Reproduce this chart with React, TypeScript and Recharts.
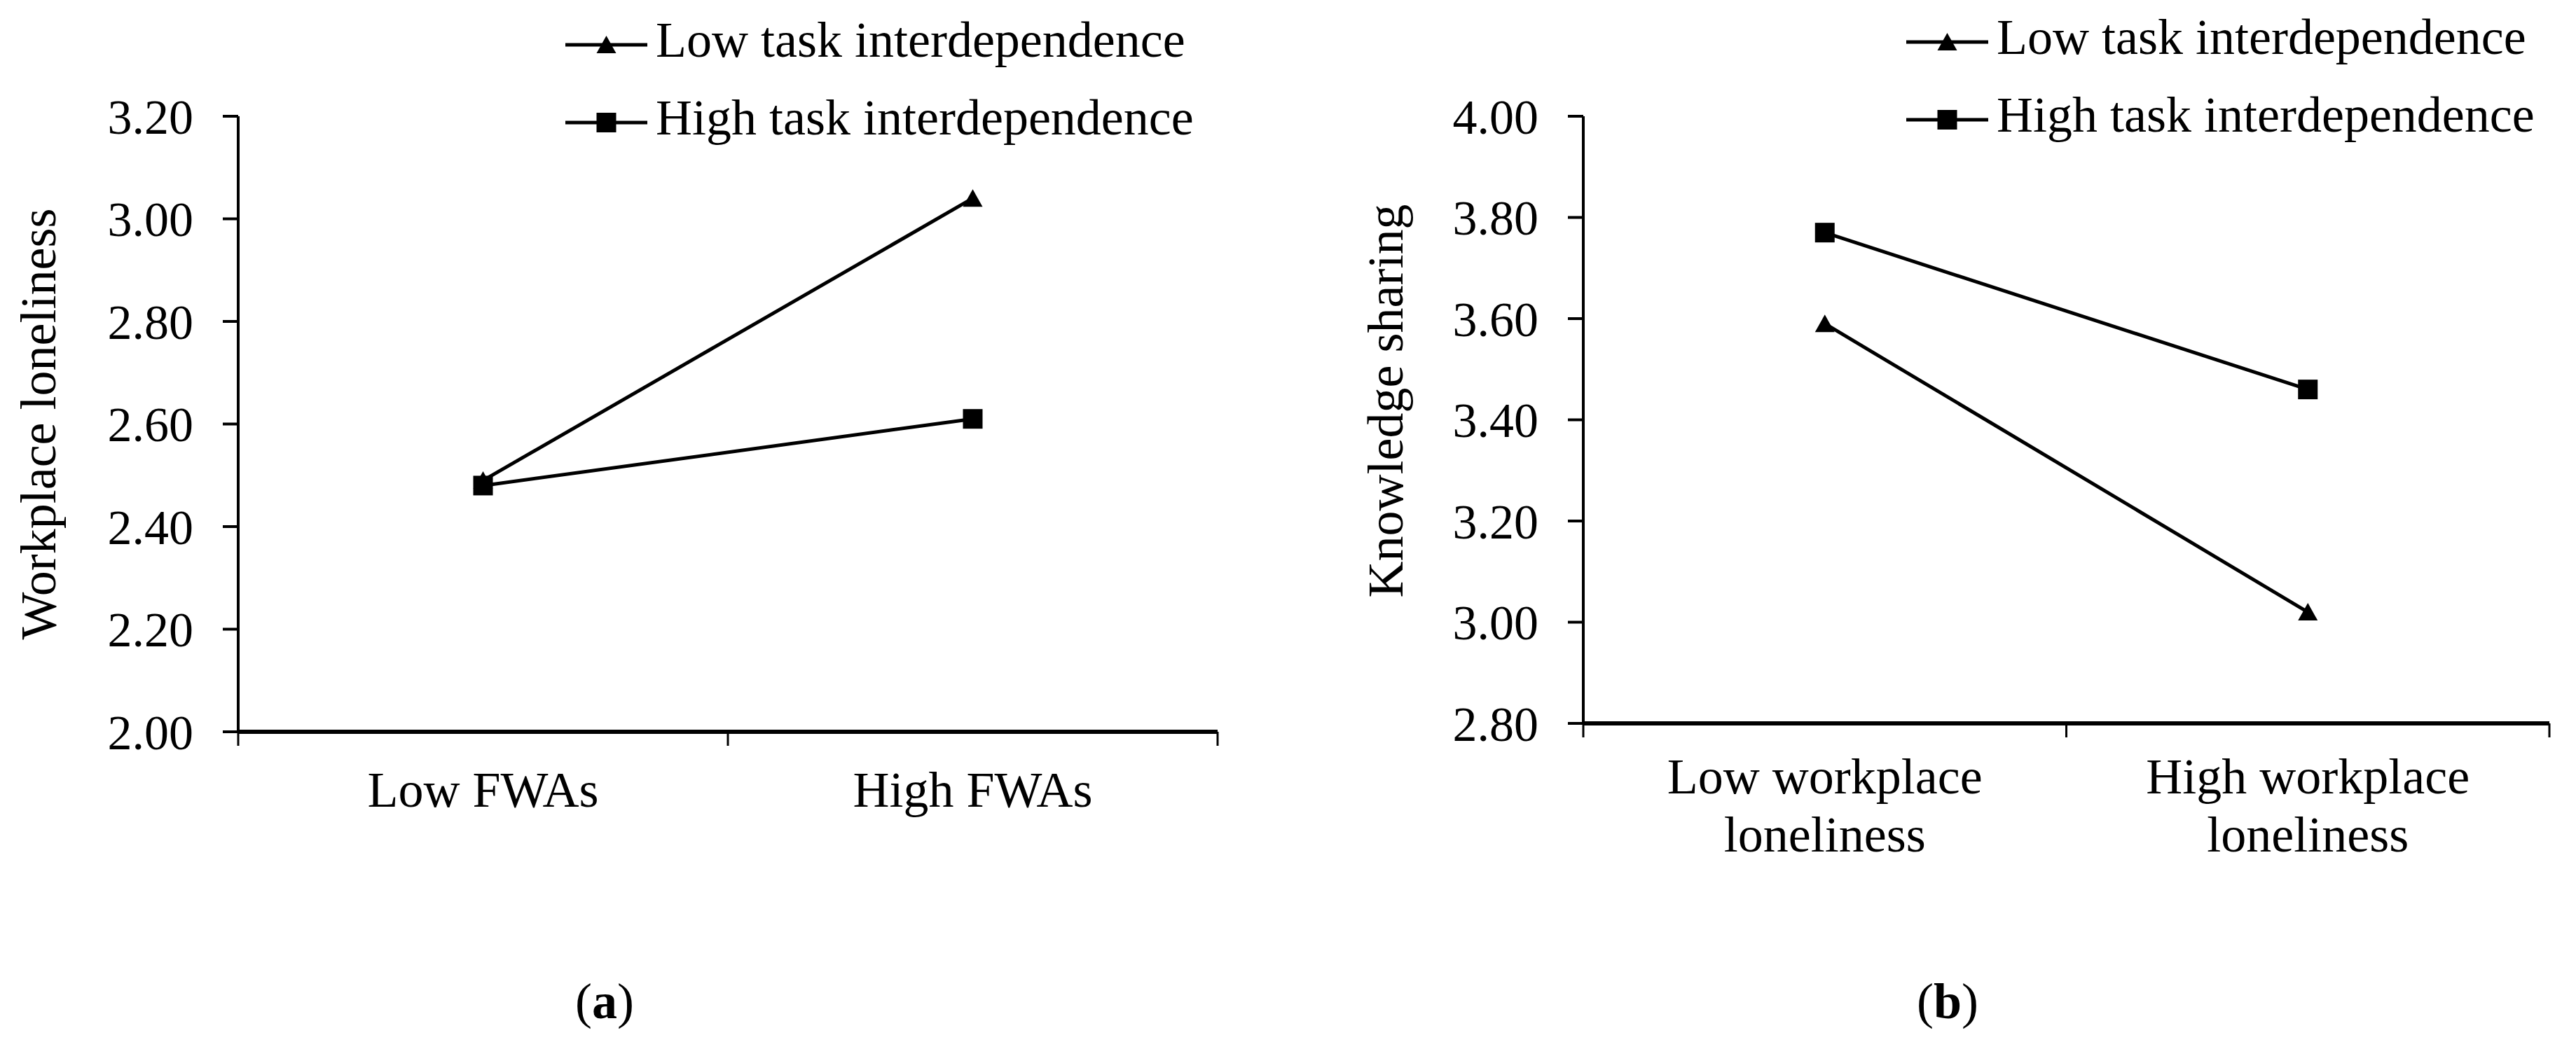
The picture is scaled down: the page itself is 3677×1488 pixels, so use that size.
import React from 'react';
import { LineChart, Line, XAxis, YAxis, Legend } from 'recharts';

const FONT = '"Liberation Serif", "Times New Roman", Times, serif';

// panel (a)
const fwaCategories = ['Low FWAs', 'High FWAs'];
const lonelinessLowTask = [2.49, 3.04];
const lonelinessHighTask = [2.48, 2.61];
const lonelinessTicks = [2.0, 2.2, 2.4, 2.6, 2.8, 3.0, 3.2];

// panel (b)
const lonelinessCategories = ['Low workplace loneliness', 'High workplace loneliness'];
const sharingLowTask = [3.59, 3.02];
const sharingHighTask = [3.77, 3.46];
const sharingTicks = [2.8, 3.0, 3.2, 3.4, 3.6, 3.8, 4.0];

const seriesNames = ['Low task interdependence', 'High task interdependence'];

const dataA = fwaCategories.map((cat, i) => ({
  cat,
  low: lonelinessLowTask[i],
  high: lonelinessHighTask[i],
}));
const dataB = lonelinessCategories.map((cat, i) => ({
  cat,
  low: sharingLowTask[i],
  high: sharingHighTask[i],
}));

function Marker({ kind, cx, cy }: { kind: string; cx: number; cy: number }) {
  if (kind === 'low') {
    return (
      <polygon
        points={`${cx},${cy - 13} ${cx + 14},${cy + 12} ${cx - 14},${cy + 12}`}
        fill="#000"
      />
    );
  }
  return <rect x={cx - 14} y={cy - 14} width={28} height={28} fill="#000" />;
}

const renderDot = (kind: string) => (props: any) => {
  const { cx, cy, index } = props;
  if (cx == null || cy == null) return <g key={index} />;
  return (
    <g key={`${kind}-${index}`}>
      <Marker kind={kind} cx={cx} cy={cy} />
    </g>
  );
};

// keep the legend in series order (Recharts sorts by value otherwise)
const renderLegend = (props: any) => {
  const items = [...(props.payload || [])].sort(
    (a: any, b: any) => seriesNames.indexOf(a.value) - seriesNames.indexOf(b.value)
  );
  return (
    <div style={{ position: 'relative' }}>
      {items.map((e: any, i: number) => (
        <div key={i} style={{ position: 'relative', height: 111, width: 1000 }}>
          <svg style={{ position: 'absolute', left: 0, top: 47 }} width={117} height={30}>
            <line x1={0} x2={117} y1={15} y2={15} stroke="#000" strokeWidth={5} />
            <Marker kind={e.dataKey} cx={58.5} cy={15} />
          </svg>
          <span
            style={{
              position: 'absolute',
              left: 129,
              top: 0,
              lineHeight: '111px',
              fontSize: 72,
              fontFamily: FONT,
              color: '#000',
              whiteSpace: 'nowrap',
            }}
          >
            {e.value}
          </span>
        </div>
      ))}
    </div>
  );
};

const makeCategoryTick =
  (half: number, count: number, wrap: boolean, baseline: number, gap: number) =>
  (props: any) => {
    const { x, y, payload, index } = props;
    const text = String(payload.value);
    const cut = text.lastIndexOf(' ');
    const lines = wrap ? [text.slice(0, cut), text.slice(cut + 1)] : [text];
    return (
      <g>
        <line x1={x - half} x2={x - half} y1={y} y2={y + 20} stroke="#000" strokeWidth={3} />
        {index === count - 1 && (
          <line x1={x + half} x2={x + half} y1={y} y2={y + 20} stroke="#000" strokeWidth={3} />
        )}
        <text x={x} y={y + baseline} textAnchor="middle" fontFamily={FONT} fontSize={72} fill="#000">
          {lines.map((l, i) => (
            <tspan key={i} x={x} dy={i === 0 ? 0 : gap}>
              {l}
            </tspan>
          ))}
        </text>
      </g>
    );
  };

interface PanelProps {
  left: number;
  width: number;
  data: any[];
  domain: [number, number];
  ticks: number[];
  yTitle: string;
  titleX: number;
  titleShift: number;
  plotLeft: number;
  plotRight: number;
  plotTop: number;
  plotBottom: number;
  wrap: boolean;
  labelBaseline: number;
  legendLeft: number;
  legendTop: number;
}

const CHART_H = 1300;
const XAXIS_H = 100;

function Panel(p: PanelProps) {
  const plotW = p.plotRight - p.plotLeft;
  const half = plotW / 4;
  const yWidth = p.plotLeft - p.left;
  return (
    <div style={{ position: 'absolute', left: p.left, top: 0 }}>
      <LineChart
        width={p.width}
        height={CHART_H}
        data={p.data}
        margin={{
          top: p.plotTop,
          right: p.left + p.width - p.plotRight,
          bottom: CHART_H - p.plotBottom - XAXIS_H,
          left: 0,
        }}
      >
        <XAxis
          dataKey="cat"
          type="category"
          scale="point"
          padding={{ left: half, right: half }}
          height={XAXIS_H}
          axisLine={{ stroke: '#000', strokeWidth: 6 }}
          tickLine={false}
          tickSize={0}
          tickMargin={0}
          interval={0}
          tick={makeCategoryTick(half, p.data.length, p.wrap, p.labelBaseline, 83)}
        />
        <YAxis
          type="number"
          domain={p.domain}
          ticks={p.ticks}
          interval={0}
          width={yWidth}
          tickFormatter={(v: number) => v.toFixed(2)}
          axisLine={{ stroke: '#000', strokeWidth: 4 }}
          tickLine={{ stroke: '#000', strokeWidth: 4 }}
          tickSize={22}
          tickMargin={42}
          tick={{ fill: '#000', fontSize: 70, fontFamily: FONT }}
          label={{
            content: (lp: any) => {
              const vb = lp.viewBox || {};
              const cx = (vb.x || 0) + p.titleX;
              const cy = (vb.y || 0) + (vb.height || 0) / 2 + p.titleShift;
              return (
                <text
                  x={cx}
                  y={cy}
                  transform={`rotate(-90 ${cx} ${cy})`}
                  textAnchor="middle"
                  fontFamily={FONT}
                  fontSize={72}
                  fill="#000"
                >
                  {p.yTitle}
                </text>
              );
            },
          }}
        />
        <Legend
          layout="vertical"
          align="center"
          verticalAlign="middle"
          content={renderLegend}
          wrapperStyle={{ left: p.legendLeft, top: p.legendTop, width: 1000, height: 222 }}
        />
        <Line
          dataKey="low"
          name={seriesNames[0]}
          stroke="#000"
          strokeWidth={5}
          dot={renderDot('low')}
          activeDot={false}
          isAnimationActive={false}
        />
        <Line
          dataKey="high"
          name={seriesNames[1]}
          stroke="#000"
          strokeWidth={5}
          dot={renderDot('high')}
          activeDot={false}
          isAnimationActive={false}
        />
      </LineChart>
    </div>
  );
}

function Caption({ center, letter }: { center: number; letter: string }) {
  return (
    <div
      style={{
        position: 'absolute',
        left: center - 200,
        top: 1394,
        width: 400,
        textAlign: 'center',
        fontFamily: FONT,
        fontSize: 72,
        lineHeight: '72px',
        color: '#000',
      }}
    >
      (<b>{letter}</b>)
    </div>
  );
}

export default function App() {
  return (
    <div
      style={{
        position: 'absolute',
        left: 0,
        top: 0,
        width: 3677,
        height: 1488,
        background: '#fff',
        overflow: 'hidden',
      }}
    >
      <Panel
        left={0}
        width={1800}
        data={dataA}
        domain={[2, 3.2]}
        ticks={lonelinessTicks}
        yTitle="Workplace loneliness"
        titleX={79}
        titleShift={0}
        plotLeft={340}
        plotRight={1738}
        plotTop={166}
        plotBottom={1045}
        wrap={false}
        labelBaseline={107}
        legendLeft={807}
        legendTop={2}
      />
      <Panel
        left={1850}
        width={1827}
        data={dataB}
        domain={[2.8, 4.0]}
        ticks={sharingTicks}
        yTitle="Knowledge sharing"
        titleX={152}
        titleShift={-27}
        plotLeft={2260}
        plotRight={3639}
        plotTop={166}
        plotBottom={1033}
        wrap={true}
        labelBaseline={100}
        legendLeft={871}
        legendTop={-2}
      />
      <Caption center={863} letter="a" />
      <Caption center={2780} letter="b" />
    </div>
  );
}
